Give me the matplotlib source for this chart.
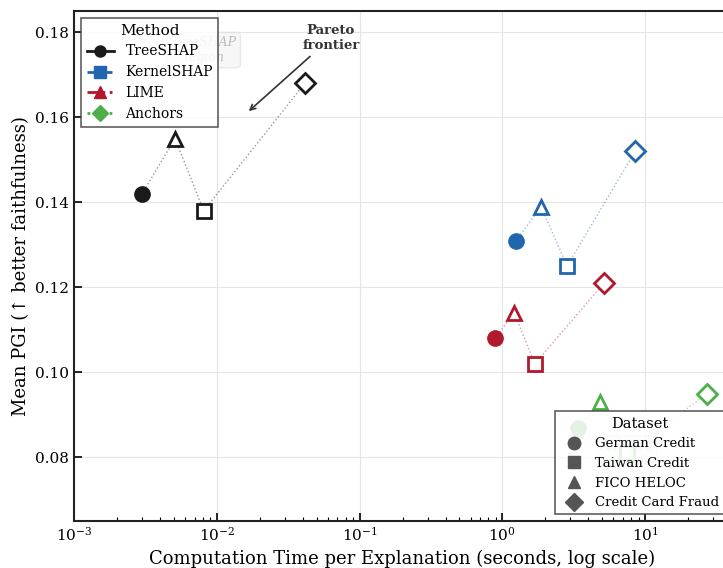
import numpy as np
import matplotlib.pyplot as plt
from matplotlib.lines import Line2D

plt.rcParams['font.family'] = 'DejaVu Serif'
plt.rcParams['mathtext.fontset'] = 'dejavuserif'

# data: time per explanation (s) and mean PGI, order = German, Taiwan, FICO, Fraud
datasets = ['German Credit', 'Taiwan Credit', 'FICO HELOC', 'Credit Card Fraud']
methods = ['TreeSHAP', 'KernelSHAP', 'LIME', 'Anchors']
times = {
    'TreeSHAP':   [0.0030, 0.0081, 0.0051, 0.0414],
    'KernelSHAP': [1.25, 2.84, 1.87, 8.53],
    'LIME':       [0.89, 1.69, 1.21, 5.16],
    'Anchors':    [3.40, 7.48, 4.84, 27.2],
}
pgi = {
    'TreeSHAP':   [0.142, 0.138, 0.155, 0.168],
    'KernelSHAP': [0.131, 0.125, 0.139, 0.152],
    'LIME':       [0.108, 0.102, 0.114, 0.121],
    'Anchors':    [0.087, 0.081, 0.093, 0.095],
}

colors = {'TreeSHAP': '#1a1a1a', 'KernelSHAP': '#2166ac',
          'LIME': '#b2182b', 'Anchors': '#4daf4a'}
mstyle = {'TreeSHAP': 'o', 'KernelSHAP': 's', 'LIME': '^', 'Anchors': 'D'}
lstyle = {'TreeSHAP': '-', 'KernelSHAP': '--', 'LIME': '-.', 'Anchors': ':'}
dmark = ['o', 's', '^', 'D']
dsize = [11, 10, 10, 10]

fig = plt.figure(figsize=(7.23, 5.68), dpi=100)
ax = fig.add_axes([0.1024, 0.0827, 0.9087, 0.8979])

for m in methods:
    t = np.array(times[m])
    p = np.array(pgi[m])
    order = np.argsort(t)
    ax.plot(t[order], p[order], ls=':', lw=1, color=colors[m], alpha=0.45, zorder=2)
    for i in range(len(datasets)):
        if i == 0:
            ax.plot(t[i], p[i], marker=dmark[i], ms=dsize[i], color=colors[m],
                    mec=colors[m], ls='none', zorder=3)
        else:
            ax.plot(t[i], p[i], marker=dmark[i], ms=dsize[i], mfc='white',
                    mec=colors[m], mew=2, ls='none', zorder=3)

# faint region labels
ax.text(0.0081, 0.1758, 'TreeSHAP\nregion', fontsize=9, style='italic', color='#bbbbbb',
        ha='center', va='center', zorder=1,
        bbox=dict(boxstyle='round,pad=0.3', fc='#f2f2f2', ec='#dddddd', alpha=0.6))
ax.text(7.48, 0.0808, 'Anchors\nregion', fontsize=9, style='italic', color='#bbbbbb',
        ha='center', va='center', zorder=1,
        bbox=dict(boxstyle='round,pad=0.3', fc='#f2f2f2', ec='#dddddd', alpha=0.6))

ax.annotate('Pareto\nfrontier', xy=(0.0162, 0.161), xytext=(0.063, 0.1787),
            fontsize=9.5, fontweight='bold', color='#333333', ha='center', va='center',
            arrowprops=dict(arrowstyle='->', color='#333333', lw=1.2))

ax.set_xscale('log')
ax.set_xlim(1e-3, 40)
ax.set_ylim(0.065, 0.185)
ax.set_yticks([0.08, 0.10, 0.12, 0.14, 0.16, 0.18])
ax.set_xlabel('Computation Time per Explanation (seconds, log scale)', fontsize=13)
ax.set_ylabel('Mean PGI (↑ better faithfulness)', fontsize=13)
ax.tick_params(which='both', direction='in', labelsize=11)
ax.tick_params(which='major', length=6, width=1.2)
ax.tick_params(which='minor', length=3, width=0.8)
ax.grid(True, which='major', color='#e5e5e5', lw=0.8)
ax.set_axisbelow(True)
for s in ax.spines.values():
    s.set_linewidth(1.5)
    s.set_color('#222222')

mhandles = [Line2D([0], [0], color=colors[m], ls=lstyle[m], lw=2, marker=mstyle[m],
                   ms=8) for m in methods]
leg1 = ax.legend(mhandles, methods, title='Method', loc='upper left', fontsize=10,
                 title_fontsize=11, fancybox=False, edgecolor='#444444', framealpha=0.85)
leg1.get_frame().set_linewidth(1.2)
ax.add_artist(leg1)

dhandles = [Line2D([0], [0], color='#555555', ls='none', marker=dmark[i], ms=9)
            for i in range(len(datasets))]
leg2 = ax.legend(dhandles, datasets, title='Dataset', loc='lower right', fontsize=9.5,
                 title_fontsize=10.5, fancybox=False, edgecolor='#444444', framealpha=0.85,
                 handletextpad=0.6)
leg2.get_frame().set_linewidth(1.2)

fig.savefig('out.png', dpi=100)
